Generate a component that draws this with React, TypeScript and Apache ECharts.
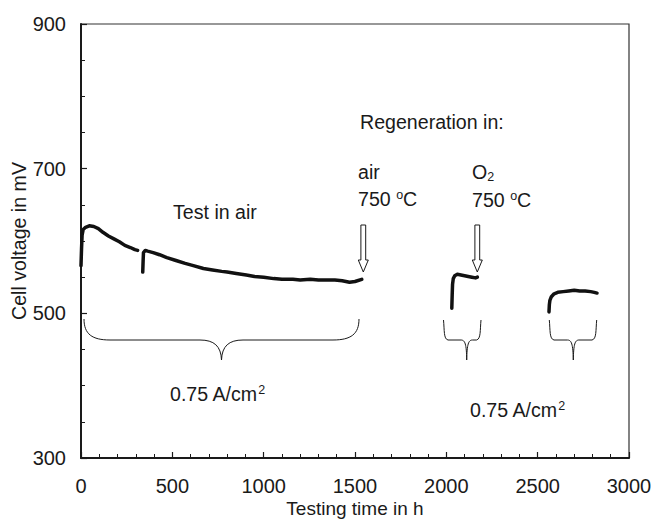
import React, { useEffect, useRef } from "react";
import * as echarts from "echarts";

const FONT = '"Liberation Sans", Arial, Helvetica, sans-serif';
const INK = "#1a1a1a";

// Axis ranges
const X_MIN = 0;
const X_MAX = 3000;
const X_STEP = 500;
const Y_MIN = 300;
const Y_MAX = 900;
const Y_STEP = 200;

// Test in air (first run, before interruption)
const seg1: [number, number][] = [
  [0, 566], [3, 590], [6, 608], [12, 616], [25, 619], [45, 621], [70, 620],
  [95, 617], [120, 612], [150, 607], [180, 603], [210, 599], [240, 594],
  [270, 591], [295, 588], [310, 587],
];

// Test in air (continued)
const seg2: [number, number][] = [
  [338, 557], [340, 572], [342, 584], [352, 587], [365, 586], [395, 584],
  [430, 581], [470, 577], [520, 573], [570, 569], [615, 566], [670, 562],
  [720, 560], [770, 558], [800, 557], [850, 555], [905, 553], [950, 551],
  [1000, 550], [1055, 548], [1100, 547], [1160, 547], [1200, 546], [1255, 547],
  [1300, 546], [1345, 546], [1390, 546], [1430, 545], [1470, 543], [1500, 544],
  [1537, 547],
];

// After regeneration in air
const seg3: [number, number][] = [
  [2030, 507], [2032, 525], [2034, 540], [2038, 548], [2046, 552], [2060, 554],
  [2080, 553], [2100, 552], [2120, 551], [2140, 550], [2160, 549], [2170, 550],
];

// After regeneration in O2
const seg4: [number, number][] = [
  [2562, 502], [2564, 512], [2567, 518], [2575, 523], [2590, 527], [2610, 529],
  [2640, 530], [2670, 531], [2700, 532], [2730, 531], [2760, 531], [2790, 530],
  [2810, 529], [2825, 528],
];

// Brace shapes (annotation drawings)
echarts.graphic.registerShape(
  "braceBig",
  echarts.graphic.extendPath(
    "M84,319 C84,334 92,340 110,340 L200,340 C214,340 221,346 221.5,360 C222,346 229,340 243,340 L333,340 C351,340 359,334 359,319",
    {}
  ) as any
);
echarts.graphic.registerShape(
  "braceSmall1",
  echarts.graphic.extendPath(
    "M443.5,320 C444.5,330 443.5,339 448,340 L461,340 C465,340 466.5,344 466.7,360 C467,344 468.5,340 472.5,340 L476.5,340 C481,339 480,330 481,320",
    {}
  ) as any
);
echarts.graphic.registerShape(
  "braceSmall2",
  echarts.graphic.extendPath(
    "M549.3,320 C550.3,330 549.3,339 554,340 L567.5,340 C571.5,340 573,344 573.3,360 C573.6,344 575,340 579,340 L592,340 C596.7,339 595.7,330 596.7,320",
    {}
  ) as any
);

function arrow(x: number) {
  return {
    type: "polygon",
    shape: {
      points: [
        [x - 2.4, 225], [x + 2.4, 225], [x + 2.4, 260], [x + 5, 260],
        [x, 272], [x - 5, 260], [x - 2.4, 260],
      ],
    },
    style: { fill: "#fff", stroke: INK, lineWidth: 1 },
    z: 10,
  };
}

const FS = 19.6;
const richBase = {
  n: { fontSize: FS, fontFamily: FONT, fill: INK, lineHeight: 22 },
  s: { fontSize: 12.5, fontFamily: FONT, fill: INK, lineHeight: 12, verticalAlign: "top" },
  b: { fontSize: 12.5, fontFamily: FONT, fill: INK, lineHeight: 12, verticalAlign: "bottom" },
};

function label(text: string, x: number, y: number) {
  return {
    type: "text",
    x,
    y,
    style: {
      text,
      rich: richBase,
      font: `${FS}px ${FONT}`,
      fill: INK,
      align: "left",
      verticalAlign: "middle",
    },
    z: 10,
  };
}

export default function App() {
  const ref = useRef<HTMLDivElement>(null);

  useEffect(() => {
    if (!ref.current) return;
    const chart = echarts.init(ref.current, null, { renderer: "svg" });

    const lineSeries = (data: [number, number][]) => ({
      type: "line",
      data,
      showSymbol: false,
      symbol: "none",
      lineStyle: { color: "#111", width: 3.5, join: "round", cap: "round" },
      z: 5,
    });

    const option: any = {
      animation: false,
      backgroundColor: "#fff",
      grid: {
        left: 81,
        right: 24,
        top: 24,
        bottom: 61,
        containLabel: false,
        outerBoundsMode: "none",
        show: true,
        borderColor: "#333",
        borderWidth: 1.2,
        backgroundColor: "transparent",
      },
      xAxis: {
        type: "value",
        min: X_MIN,
        max: X_MAX,
        interval: X_STEP,
        axisLine: { show: true, onZero: false, lineStyle: { color: INK, width: 2 } },
        axisTick: { show: true, inside: true, length: 6, lineStyle: { color: INK, width: 1.2 } },
        minorTick: { show: true, splitNumber: 5, length: 4, lineStyle: { color: INK, width: 1 } },
        splitLine: { show: false },
        axisLabel: {
          color: INK,
          fontSize: 20,
          fontFamily: FONT,
          margin: 18,
          formatter: (v: number) => String(v),
        },
        name: "Testing time in h",
        nameLocation: "middle",
        nameGap: 41,
        nameMoveOverlap: false,
        nameTextStyle: { color: INK, fontSize: 19, fontFamily: FONT, lineHeight: 19 },
      },
      yAxis: {
        type: "value",
        min: Y_MIN,
        max: Y_MAX,
        interval: Y_STEP,
        axisLine: { show: true, onZero: false, lineStyle: { color: INK, width: 2 } },
        axisTick: { show: true, inside: true, length: 6, lineStyle: { color: INK, width: 1.2 } },
        minorTick: { show: true, splitNumber: 4, length: 4, lineStyle: { color: INK, width: 1 } },
        splitLine: { show: false },
        axisLabel: {
          color: INK,
          fontSize: 20,
          fontFamily: FONT,
          margin: 15,
          formatter: (v: number) => String(v),
        },
        name: "Cell voltage in mV",
        nameLocation: "middle",
        nameGap: 52,
        nameMoveOverlap: false,
        nameTextStyle: { color: INK, fontSize: FS, fontFamily: FONT },
      },
      series: [lineSeries(seg1), lineSeries(seg2), lineSeries(seg3), lineSeries(seg4)],
      graphic: [
        label("{n|Test in air}", 173, 212),
        label("{n|Regeneration in:}", 360, 122),
        label("{n|air}", 358, 172),
        label("{n|750 }{s|o}{n|C}", 358, 199),
        label("{n|O}{b|2}", 472, 172),
        label("{n|750 }{s|o}{n|C}", 472, 200),
        label("{n|0.75 A/cm}{s|2}", 170, 394),
        label("{n|0.75 A/cm}{s|2}", 470, 410),
        arrow(363.3),
        arrow(477.3),
        { type: "braceBig", style: { fill: "none", stroke: INK, lineWidth: 1 }, z: 10 },
        { type: "braceSmall1", style: { fill: "none", stroke: INK, lineWidth: 1 }, z: 10 },
        { type: "braceSmall2", style: { fill: "none", stroke: INK, lineWidth: 1 }, z: 10 },
      ],
    };

    chart.setOption(option);
    return () => chart.dispose();
  }, []);

  return (
    <div
      ref={ref}
      style={{ position: "fixed", left: 0, top: 0, width: 653, height: 519, background: "#fff" }}
    />
  );
}
